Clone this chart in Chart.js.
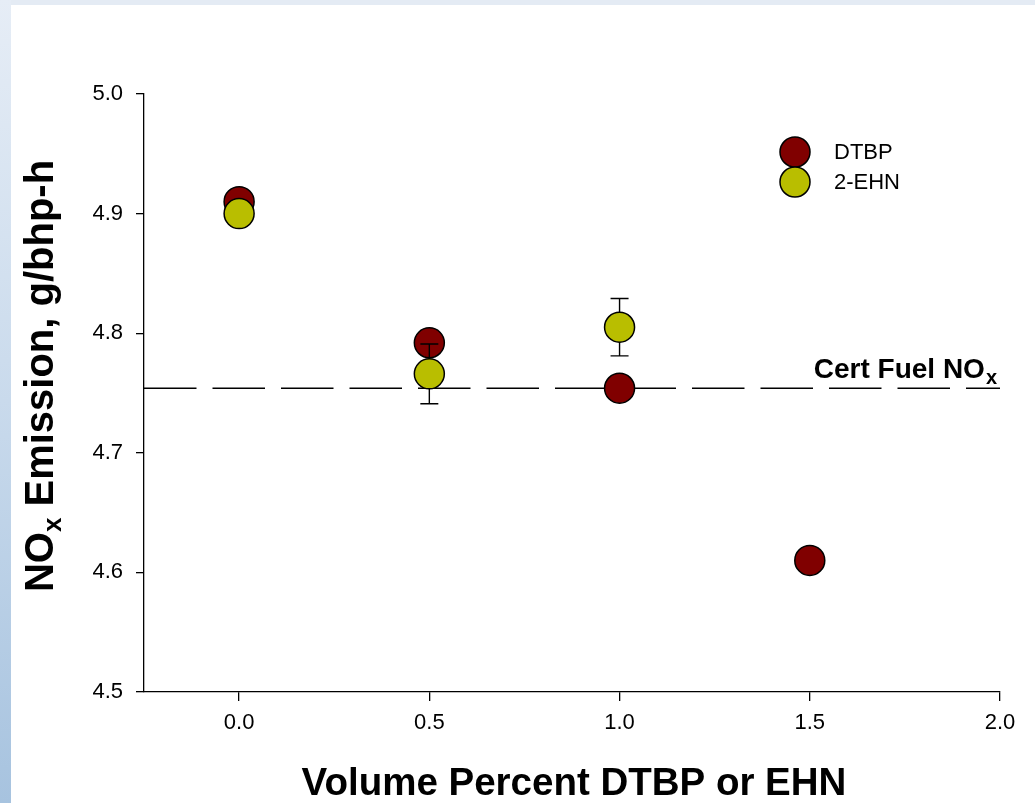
<!DOCTYPE html>
<html>
<head>
<meta charset="utf-8">
<title>NOx Emission vs Volume Percent DTBP or EHN</title>
<script src="https://cdn.jsdelivr.net/npm/chart.js@4"></script>
<style>
  html, body { margin: 0; padding: 0; width: 1035px; height: 803px; overflow: hidden; }
  body { position: relative; background: #e4ebf4; }
  #strip { position: absolute; left: 0; top: 0; width: 11px; height: 803px;
           background: linear-gradient(to bottom, #e6edf6 0%, #c9daec 50%, #a7c3df 100%); }
  #panel { position: absolute; left: 11px; top: 5px; right: 0; bottom: 0; background: #fff; }
  #chart { position: absolute; left: 0; top: 0; }
</style>
</head>
<body>
<div id="strip"></div>
<div id="panel"></div>
<canvas id="chart" width="1035" height="803"></canvas>
<script>
// additive volume percent and measured NOx (g/bhp-h)
const dtbpPct = [0.0, 0.5, 1.0, 1.5];
const dtbpNox = [4.910, 4.792, 4.754, 4.610];
const ehnPct = [0.0, 0.5, 1.0];
const ehnNox = [4.900, 4.766, 4.805];
const ehnErr = [0, 0.025, 0.024];
const certNox = 4.754;
const xTicks = [0.0, 0.5, 1.0, 1.5, 2.0];
const yTicks = [4.5, 4.6, 4.7, 4.8, 4.9, 5.0];

const FONT = '"Liberation Sans", Arial, Helvetica, sans-serif';
const DTBP_COLOR = '#800000';
const EHN_COLOR = '#b9be00';
const MARKER_R = 15;

function toPoints(xs, ys) {
  return xs.map((x, i) => ({ x: x, y: ys[i] }));
}

// dashed reference line for the certification fuel
const certLine = {
  id: 'certLine',
  beforeDatasetsDraw(chart) {
    const { ctx, chartArea, scales } = chart;
    const y = scales.y.getPixelForValue(certNox);
    ctx.save();
    ctx.strokeStyle = '#000';
    ctx.lineWidth = 1.5;
    ctx.setLineDash([52.5, 16]);
    ctx.beginPath();
    ctx.moveTo(chartArea.left, y);
    ctx.lineTo(chartArea.right, y);
    ctx.stroke();
    ctx.setLineDash([]);

    // label with subscript
    ctx.fillStyle = '#000';
    ctx.textBaseline = 'alphabetic';
    ctx.textAlign = 'left';
    ctx.font = 'bold 28px ' + FONT;
    const main = 'Cert Fuel NO';
    const w = ctx.measureText(main).width;
    ctx.font = 'bold 20px ' + FONT;
    const ws = ctx.measureText('x').width;
    const x0 = chartArea.right - 4 - ws - w;
    ctx.font = 'bold 28px ' + FONT;
    ctx.fillText(main, x0, y - 10);
    ctx.font = 'bold 20px ' + FONT;
    ctx.fillText('x', x0 + w + 1, y - 4);
    ctx.restore();
  }
};

// symmetric error bars, drawn under the 2-EHN markers
const errorBars = {
  id: 'errorBars',
  beforeDatasetDraw(chart, args) {
    if (args.index !== 1) return;
    const { ctx, scales } = chart;
    ctx.save();
    ctx.strokeStyle = '#000';
    ctx.lineWidth = 1.4;
    ehnPct.forEach((v, i) => {
      const e = ehnErr[i];
      if (!e) return;
      const x = scales.x.getPixelForValue(v);
      const yTop = scales.y.getPixelForValue(ehnNox[i] + e);
      const yBot = scales.y.getPixelForValue(ehnNox[i] - e);
      ctx.beginPath();
      ctx.moveTo(x, yTop); ctx.lineTo(x, yBot);
      ctx.moveTo(x - 9, yTop); ctx.lineTo(x + 9, yTop);
      ctx.moveTo(x - 9, yBot); ctx.lineTo(x + 9, yBot);
      ctx.stroke();
    });
    ctx.restore();
  }
};

// axis titles, with the NOx subscript, and the legend box
const annotations = {
  id: 'annotations',
  afterDraw(chart) {
    const { ctx, chartArea } = chart;
    ctx.save();
    ctx.fillStyle = '#000';

    // x title
    ctx.font = 'bold 38.5px ' + FONT;
    ctx.textAlign = 'center';
    ctx.textBaseline = 'alphabetic';
    ctx.fillText('Volume Percent DTBP or EHN', 574, 795);

    // y title, rotated
    const big = 'bold 40px ' + FONT;
    const small = 'bold 26px ' + FONT;
    ctx.font = big;
    const wNO = ctx.measureText('NO').width;
    const wRest = ctx.measureText(' Emission, g/bhp-h').width;
    ctx.font = small;
    const wX = ctx.measureText('x').width;
    const total = wNO + wX + wRest;
    ctx.translate(53, 376);
    ctx.rotate(-Math.PI / 2);
    ctx.textAlign = 'left';
    let px = -total / 2;
    ctx.font = big;
    ctx.fillText('NO', px, 0);
    px += wNO;
    ctx.font = small;
    ctx.fillText('x', px, 8);
    px += wX;
    ctx.font = big;
    ctx.fillText(' Emission, g/bhp-h', px, 0);
    ctx.setTransform(1, 0, 0, 1, 0, 0);

    // legend
    const lx = 795, ly = 152;
    [[DTBP_COLOR, 'DTBP'], [EHN_COLOR, '2-EHN']].forEach(([c, t], i) => {
      const cy = ly + i * 30;
      ctx.beginPath();
      ctx.arc(lx, cy, MARKER_R, 0, Math.PI * 2);
      ctx.fillStyle = c;
      ctx.fill();
      ctx.lineWidth = 1.5;
      ctx.strokeStyle = '#000';
      ctx.stroke();
      ctx.fillStyle = '#000';
      ctx.font = '22px ' + FONT;
      ctx.textAlign = 'left';
      ctx.textBaseline = 'middle';
      ctx.fillText(t, lx + 39, cy + 1);
    });
    ctx.restore();
  }
};

new Chart(document.getElementById('chart'), {
  type: 'scatter',
  data: {
    datasets: [
      {
        label: 'DTBP',
        data: toPoints(dtbpPct, dtbpNox),
        backgroundColor: DTBP_COLOR,
        borderColor: '#000',
        borderWidth: 1.5,
        pointRadius: MARKER_R,
        order: 2
      },
      {
        label: '2-EHN',
        data: toPoints(ehnPct, ehnNox),
        backgroundColor: EHN_COLOR,
        borderColor: '#000',
        borderWidth: 1.5,
        pointRadius: MARKER_R,
        order: 1
      }
    ]
  },
  options: {
    responsive: false,
    animation: false,
    layout: { padding: { left: 0, top: 94, right: 35, bottom: 0 } },
    scales: {
      x: {
        type: 'linear',
        min: -0.25,
        max: 2.0,
        afterBuildTicks: axis => { axis.ticks = xTicks.map(v => ({ value: v })); },
        afterFit: axis => { axis.height = 111; },
        ticks: {
          color: '#000',
          padding: 9,
          font: { family: FONT, size: 22 },
          callback: v => v.toFixed(1)
        },
        grid: { drawOnChartArea: false, drawTicks: true, tickLength: 9, color: '#000', lineWidth: 1.3 },
        border: { display: true, color: '#000', width: 1.3 }
      },
      y: {
        type: 'linear',
        min: 4.5,
        max: 5.0,
        afterBuildTicks: axis => { axis.ticks = yTicks.map(v => ({ value: v })); },
        afterFit: axis => { axis.width = 144; },
        ticks: {
          color: '#000',
          padding: 13,
          font: { family: FONT, size: 22 },
          callback: v => v.toFixed(1)
        },
        grid: { drawOnChartArea: false, drawTicks: true, tickLength: 8, color: '#000', lineWidth: 1.3 },
        border: { display: true, color: '#000', width: 1.3 }
      }
    },
    plugins: {
      legend: { display: false },
      tooltip: { enabled: false }
    }
  },
  plugins: [certLine, errorBars, annotations]
});
</script>
</body>
</html>
